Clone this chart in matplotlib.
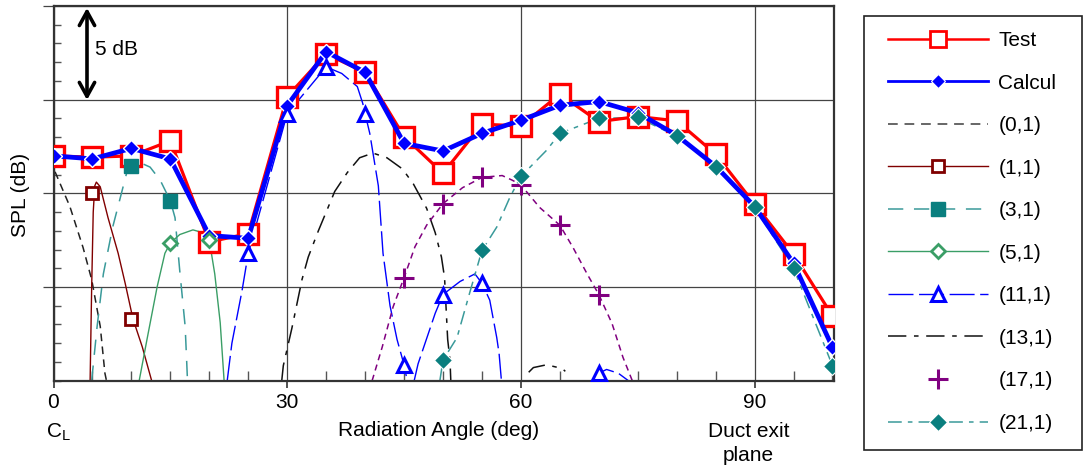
import matplotlib
matplotlib.use("Agg")
import matplotlib.pyplot as plt
import matplotlib.transforms as mtransforms
from matplotlib.lines import Line2D
from matplotlib.patches import Rectangle
import numpy as np

plt.rcParams['font.family'] = ['Liberation Sans', 'DejaVu Sans']

# ---------------- data ----------------
angles = [0, 5, 10, 15, 20, 25, 30, 35, 40, 45, 50, 55, 60, 65, 70, 75, 80, 85, 90, 95, 100]
test_spl = [12.0, 11.93, 12.0, 12.8, 7.41, 7.85, 15.16, 17.44, 16.46, 13.03, 11.07,
            13.69, 13.6, 15.29, 13.83, 14.1, 13.87, 12.09, 9.43, 6.76, 3.45]
calc_spl = [12.0, 11.84, 12.4, 11.84, 7.75, 7.6, 14.68, 17.56, 16.46, 12.67, 12.26,
            13.2, 13.9, 14.7, 14.9, 14.3, 13.1, 11.45, 9.3, 6.27, 1.78]

# mode (0,1)
m01_x = [0.2, 2.1, 3.8, 4.9, 6.0, 6.6, 6.8]
m01_y = [11.15, 9.3, 7.1, 5.4, 2.9, 0.4, 0.0]
# mode (1,1)
m11_x = [4.7, 4.9, 5.1, 5.3, 5.5, 6.0, 7.0, 8.3, 9.2, 10.2, 11.4, 12.6]
m11_y = [0.0, 5.0, 9.0, 10.4, 10.6, 10.35, 8.7, 6.8, 5.2, 3.3, 1.8, 0.0]
m11_mx = [5, 10]
m11_my = [10.0, 3.3]
# mode (3,1)
m31_x = [4.9, 5.6, 6.4, 7.6, 9.4, 10.0, 10.8, 12.4, 13.7, 15.0, 15.6, 16.2, 16.9, 17.1, 17.2]
m31_y = [0.0, 2.9, 5.7, 8.2, 11.1, 11.45, 11.7, 11.4, 10.7, 9.6, 8.7, 5.9, 2.9, 1.0, 0.0]
m31_mx = [10, 15]
m31_my = [11.45, 9.6]
# mode (5,1)
m51_x = [11.0, 12.0, 13.3, 14.3, 15.0, 16.2, 17.9, 19.2, 20.0, 20.7, 21.4, 21.9]
m51_y = [0.0, 2.2, 5.0, 6.8, 7.35, 7.8, 8.05, 7.9, 7.5, 5.7, 3.1, 0.0]
m51_mx = [15, 20]
m51_my = [7.35, 7.5]
# mode (11,1)  (NaN separates lobes)
m111_x = [22.3, 22.9, 24.2, 25.0, 30.0, 35.0, 37.0, 39.0, 39.7, 40.0, 40.6, 41.7, 42.3, 43.2, 44.1, 45.0, 45.4,
          np.nan, 46.3, 46.8, 49.0, 50.0, 52.2, 54.1, 55.0, 56.0, 56.9, 57.2, 57.5,
          np.nan, 69.4, 70.0, 71.0, 72.5, 73.8]
m111_y = [0.0, 2.0, 4.8, 6.8, 14.25, 16.75, 16.4, 15.7, 14.8, 14.25, 13.2, 10.4, 6.8, 4.0, 2.2, 0.85, 0.0,
          np.nan, 0.0, 0.9, 3.6, 4.6, 5.3, 5.7, 5.2, 4.3, 2.3, 1.45, 0.0,
          np.nan, 0.0, 0.4, 0.6, 0.4, 0.0]
m111_mx = [25, 30, 35, 40, 45, 50, 55, 70]
m111_my = [6.8, 14.25, 16.75, 14.25, 0.85, 4.6, 5.2, 0.4]
# mode (13,1)
m131_x = [29.3, 29.5, 30.6, 31.9, 32.7, 34.0, 35.1, 36.1, 37.7, 39.3, 41.0, 42.8, 44.8, 46.2, 47.9,
          49.0, 49.8, 50.2, 50.6, 50.9, 51.0, np.nan, 61.0, 61.6, 63.3, 65.3, 65.7]
m131_y = [0.0, 0.8, 2.8, 5.4, 6.6, 8.0, 9.1, 10.1, 11.1, 11.9, 12.15, 11.9, 11.3, 10.5, 9.2,
          7.9, 6.6, 5.5, 2.2, 1.1, 0.0, np.nan, 0.45, 0.7, 0.85, 0.65, 0.5]
# mode (17,1)
m171_x = [40.9, 42.2, 43.6, 45.0, 46.4, 47.9, 50.0, 52.5, 55.0, 57.6, 58.9, 60.0, 62.4, 65.0,
          66.7, 68.5, 70.0, 71.7, 73.1, 74.3]
m171_y = [0.0, 1.8, 3.95, 5.5, 7.15, 8.3, 9.45, 10.3, 10.85, 10.95, 10.7, 10.45, 9.25, 8.3,
          7.1, 5.7, 4.6, 3.05, 1.25, 0.0]
m171_mx = [45, 50, 55, 60, 65, 70]
m171_my = [5.5, 9.45, 10.85, 10.45, 8.3, 4.6]
# mode (21,1)
m211_x = [49.6, 50.0, 51.8, 53.5, 55.0, 56.9, 58.6, 60.0, 63.3, 65.0, 70.0, 75.0, 80.0, 85.0, 90.0, 95.0, 100.0]
m211_y = [0.0, 1.1, 2.3, 4.8, 6.95, 8.2, 9.8, 10.9, 12.3, 13.2, 14.0, 14.05, 13.05, 11.4, 9.25, 6.0, 0.8]
m211_mx = [50, 55, 60, 65, 70, 75, 80, 85, 90, 95, 100]
m211_my = [1.1, 6.95, 10.9, 13.2, 14.0, 14.05, 13.05, 11.4, 9.25, 6.0, 0.8]

legend_labels = ['Test', 'Calcul', '(0,1)', '(1,1)', '(3,1)', '(5,1)', '(11,1)', '(13,1)', '(17,1)', '(21,1)']
xtick_vals = [0, 30, 60, 90]

# ---------------- styles ----------------
W, H = 1086, 466
fig = plt.figure(figsize=(W / 100, H / 100), dpi=100)
ax = fig.add_axes([53.5 / W, 1 - 380.7 / H, (834 - 53.5) / W, (380.7 - 6) / H])

teal = '#0a7f7f'
teal_l = '#3a9a9a'
green = '#3a9e66'
dred = '#800000'
purple = '#800080'

s_test = dict(color='#ff0000', lw=2.3, marker='s', ms=14, mfc='white', mec='#ff0000', mew=2.4)
s_calc = dict(color='#0000ff', lw=3.4, marker='D', ms=8.5, mfc='#0000ff', mec='white', mew=1.0)
s01 = dict(color='#222222', lw=1.1, ls=(0, (5, 3.5)))
s11 = dict(color=dred, lw=1.0, ls='-')
m11s = dict(marker='s', ms=9, mfc='white', mec=dred, mew=2.0, ls='none')
s31 = dict(color=teal_l, lw=1.1, ls=(0, (10, 7)))
m31s = dict(marker='s', ms=10, mfc=teal, mec=teal, mew=1, ls='none')
s51 = dict(color=green, lw=1.0, ls='-')
m51s = dict(marker='D', ms=7, mfc='white', mec=green, mew=2.0, ls='none')
s111 = dict(color='#0000ff', lw=1.0, ls=(0, (18, 4)))
m111s = dict(marker='^', ms=9.5, mfc='white', mec='#0000ff', mew=2.2, ls='none')
s131 = dict(color='#111111', lw=1.1, ls=(0, (12, 5, 3, 5)))
s171 = dict(color=purple, lw=1.1, ls=(0, (4, 3)))
m171s = dict(marker='+', ms=14, mec=purple, mew=2.2, ls='none')
s211 = dict(color=teal_l, lw=1.1, ls=(0, (9, 4, 3, 4)))
m211s = dict(marker='D', ms=9, mfc=teal, mec='white', mew=0.8, ls='none')

# ---------------- plotting ----------------
ax.plot(m01_x, m01_y, zorder=2, **s01)
ax.plot(m11_x, m11_y, zorder=2, **s11)
ax.plot(m31_x, m31_y, zorder=2, **s31)
ax.plot(m51_x, m51_y, zorder=2, **s51)
ax.plot(m111_x, m111_y, zorder=2, **s111)
ax.plot(m131_x, m131_y, zorder=2, **s131)
ax.plot(m171_x, m171_y, zorder=2, **s171)
ax.plot(m211_x, m211_y, zorder=2, **s211)

ax.plot(angles, test_spl, zorder=4, **s_test)
ax.plot(angles, calc_spl, zorder=5, **s_calc)

ax.plot(m11_mx, m11_my, zorder=6, **m11s)
ax.plot(m31_mx, m31_my, zorder=6, **m31s)
ax.plot(m51_mx, m51_my, zorder=6, **m51s)
ax.plot(m111_mx, m111_my, zorder=6, **m111s)
ax.plot(m171_mx, m171_my, zorder=6, **m171s)
ax.plot(m211_mx, m211_my, zorder=7, **m211s)

ax.set_xlim(0, (834 - 53.5) / 7.79)
ax.set_ylim(0, 20)
ax.set_xticks(xtick_vals)
ax.set_xticks(np.arange(0, 101, 5), minor=True)
ax.set_yticks([5, 10, 15, 20])
ax.set_yticks(np.arange(0, 21, 1), minor=True)
ax.set_yticklabels([])
ax.grid(True, which='major', color='#444444', lw=0.9)
ax.tick_params(axis='x', which='major', direction='out', length=5, width=1.2, pad=4,
               labelsize=15, color='#333333')
ax.tick_params(axis='x', which='minor', direction='in', length=7, width=1.0, color='#555555')
ax.tick_params(axis='y', which='major', direction='out', length=8, width=0.9, color='#444444')
ax.tick_params(axis='y', which='minor', direction='in', length=5, width=1.0, color='#555555')
for sp in ax.spines.values():
    sp.set_linewidth(1.6)
    sp.set_color('#333333')
ax.set_axisbelow(True)

# 5 dB arrow
ax.annotate('', xy=(4.3, 19.9), xytext=(4.3, 14.98),
            arrowprops=dict(arrowstyle='<->,head_length=1.0,head_width=0.55', lw=2.6,
                            color='black', shrinkA=0, shrinkB=0, mutation_scale=10), zorder=8)
ax.text(5.3, 17.66, '5 dB', fontsize=15, ha='left', va='center')

trans = mtransforms.blended_transform_factory(ax.transData, ax.transAxes)
ax.text(0.6, -0.137, r'$\mathregular{C_L}$', fontsize=15, ha='center', va='center', transform=trans)
ax.text(49.4, -0.132, 'Radiation Angle (deg)', fontsize=15, ha='center', va='center', transform=trans)
ax.text(89.2, -0.168, 'Duct exit\nplane', fontsize=15, ha='center', va='center',
        linespacing=1.3, transform=trans)
fig.text(20 / W, 1 - 195 / H, 'SPL (dB)', fontsize=15, rotation=90, ha='center', va='center')

# legend
def combo(line_style, marker_style):
    d = dict(line_style)
    d.update({k: v for k, v in marker_style.items() if k != 'ls'})
    return Line2D([], [], **d)

handles = [
    Line2D([], [], color='#ff0000', lw=1.8, marker='s', ms=12, mfc='white', mec='#ff0000', mew=2.0),
    Line2D([], [], color='#0000ff', lw=2.0, marker='D', ms=7.5, mfc='#0000ff', mec='white', mew=0.8),
    Line2D([], [], color='#666666', lw=1.4, ls=(0, (5, 3.5))),
    combo(s11, m11s),
    combo(s31, m31s),
    combo(s51, m51s),
    combo(s111, m111s),
    Line2D([], [], **s131),
    Line2D([], [], **m171s),
    combo(s211, m211s),
]
fig.patches.append(Rectangle((864 / W, 1 - 450 / H), (1082 - 864) / W, (450 - 16) / H,
                             transform=fig.transFigure, fill=False, edgecolor='#222222', lw=1.2))
fig.legend(handles, legend_labels, loc='upper left', bbox_to_anchor=(888 / W, 1 - 31 / H),
           frameon=False, fontsize=15, handlelength=4.8, handletextpad=0.5,
           labelspacing=1.13, borderpad=0, borderaxespad=0)

fig.savefig('out.png', dpi=100)
